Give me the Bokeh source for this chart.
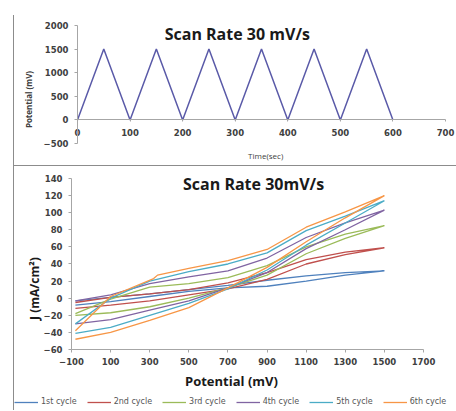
from bokeh.plotting import figure
from bokeh.models import Label, Legend, LegendItem, FixedTicker, Div
from bokeh.layouts import column, row
from bokeh.embed import file_html
from bokeh.resources import INLINE
import math

# ---------------- data ----------------
time_s = [0, 50, 100, 150, 200, 250, 300, 350, 400, 450, 500, 550, 600]
potential_mv = [0, 1500, 0, 1500, 0, 1500, 0, 1500, 0, 1500, 0, 1500, 0]

fwd_x = [-80, 100, 300, 500, 700, 900, 1100, 1300, 1500]
rev_x = [1500, 1300, 1100, 900, 700, 500, 300, 100, -80]
rev_x6 = [1500, 1300, 1100, 900, 700, 500, 340, 320, 100, -80]

c1_fwd = [-8, -4, 2, 8, 12, 14, 20, 27, 32]
c1_rev = [32, 30, 26, 21, 15, 10, 5, 1, -3]
c2_fwd = [-12, -8, -3, 4, 11, 22, 40, 51, 59]
c2_rev = [59, 54, 45, 30, 18, 10, 5, 1, -5]
c3_fwd = [-20, -17, -10, 0, 12, 27, 52, 70, 85]
c3_rev = [85, 75, 60, 38, 24, 17, 13, -1, -18]
c4_fwd = [-30, -25, -14, -3, 12, 30, 58, 80, 103]
c4_rev = [103, 88, 71, 47, 32, 25, 17, 4, -3]
c5_fwd = [-41, -34, -20, -6, 11, 33, 62, 88, 114]
c5_rev = [114, 96, 79, 53, 40, 31, 20, 0, -30]
c6_fwd = [-48, -40, -26, -11, 12, 36, 66, 94, 120]
c6_rev = [120, 101, 83, 57, 44, 35, 27, 23, 2, -38]

cycle_names = ["1st cycle", "2nd cycle", "3rd cycle", "4th cycle", "5th cycle", "6th cycle"]
cycle_colors = ["#4F81BD", "#C0504D", "#9BBB59", "#8064A2", "#4BACC6", "#F79646"]

top_xticks = [0, 100, 200, 300, 400, 500, 600, 700]
top_yticks = [-500, 0, 500, 1000, 1500, 2000]
bot_xticks = [-100, 100, 300, 500, 700, 900, 1100, 1300, 1500, 1700]
bot_yticks = [-60, -40, -20, 0, 20, 40, 60, 80, 100, 120, 140]

AX = "#a6a6a6"
TXT = "#404040"
DARK = "#1a1a1a"
LINE = "#8c8c8c"
TICKFONT = "DejaVu Sans"
TITLEFONT = "Open Sans"

def style_axes(p):
    for ax in (p.xaxis[0], p.yaxis[0]):
        ax.axis_line_color = AX
        ax.major_tick_line_color = AX
        ax.minor_tick_line_color = None
        ax.major_tick_out = 3
        ax.major_tick_in = 0
        ax.major_label_text_font = TICKFONT
        ax.major_label_text_font_style = "bold"
        ax.major_label_text_font_size = "8.5px"
        ax.major_label_text_color = TXT
    p.grid.visible = False
    p.outline_line_color = None

def text_label(p, x, y, txt, size, bold=True, color=DARK, angle=0.0):
    p.add_layout(Label(x=x, y=y, text=txt, text_align="center", text_baseline="middle",
                       angle=angle, text_font=TITLEFONT,
                       text_font_style="bold" if bold else "normal",
                       text_font_size=size, text_color=color))

# ---------------- top chart (frame fills the canvas) ----------------
p1 = figure(width=442, height=165, x_range=(-119.8, 720.9), y_range=(-966, 2530),
            output_backend="svg", toolbar_location=None,
            min_border_left=0, min_border_right=0, min_border_top=0, min_border_bottom=0)
p1.line(time_s, potential_mv, line_color="#5a5aa8", line_width=1.5)
style_axes(p1)
p1.xaxis.fixed_location = 0
p1.xaxis.bounds = (0, 700)
p1.yaxis.fixed_location = 0
p1.yaxis.bounds = (-500, 2000)
p1.xaxis.ticker = FixedTicker(ticks=top_xticks)
p1.yaxis.ticker = FixedTicker(ticks=top_yticks)
p1.xaxis.major_tick_out = 2
p1.xaxis.major_label_standoff = 7
p1.yaxis.major_label_standoff = 6

text_label(p1, 304, 1830, "Scan Rate 30 mV/s", "16px")
text_label(p1, 358, -754, "Time(sec)", "8px", bold=False, color=TXT)
text_label(p1, -94, 432, "Potential (mV)", "8px", color=TXT, angle=math.pi / 2)

# ---------------- bottom chart (frame fills the canvas) ----------------
p2 = figure(width=442, height=244, x_range=(-391.5, 1868.7), y_range=(-131.3, 154.0),
            output_backend="svg", toolbar_location=None,
            min_border_left=0, min_border_right=0, min_border_top=0, min_border_bottom=0)
style_axes(p2)
p2.xaxis.fixed_location = -60
p2.xaxis.bounds = (-100, 1700)
p2.yaxis.fixed_location = -100
p2.yaxis.bounds = (-60, 140)
p2.xaxis.ticker = FixedTicker(ticks=bot_xticks)
p2.yaxis.ticker = FixedTicker(ticks=bot_yticks)
p2.xaxis.major_label_standoff = 5
p2.yaxis.major_label_standoff = 6

cycles = [
    (c1_fwd, c1_rev, rev_x),
    (c2_fwd, c2_rev, rev_x),
    (c3_fwd, c3_rev, rev_x),
    (c4_fwd, c4_rev, rev_x),
    (c5_fwd, c5_rev, rev_x),
    (c6_fwd, c6_rev, rev_x6),
]
items = []
for (fy, ry, rx), name, col in zip(cycles, cycle_names, cycle_colors):
    xs = fwd_x + rx[1:]
    ys = fy + ry[1:]
    r = p2.line(xs, ys, line_color=col, line_width=1.3)
    items.append(LegendItem(label=name, renderers=[r]))

text_label(p2, 831, 134, "Scan Rate 30mV/s", "16px")
text_label(p2, 718, -96.3, "Potential (mV)", "13px")
text_label(p2, -289, 11.3, "J (mA/cm²)", "12px", angle=math.pi / 2)

legend = Legend(items=items, orientation="horizontal", location=(0, 4),
                padding=0, margin=0, spacing=10, glyph_width=24, glyph_height=8,
                label_standoff=3, label_height=8, label_text_font=TICKFONT,
                label_text_font_size="8px", label_text_color="#555555",
                border_line_color=None, background_fill_alpha=0)
p2.add_layout(legend)

# ---------------- frame lines ----------------
vline = Div(width=1, height=395, margin=(15, 0, 0, 13), styles={"background-color": LINE})
hline = Div(width=442, height=1, margin=(0, 0, 0, 0), styles={"background-color": LINE})

layout = row(vline, column(p1, hline, p2, spacing=0), spacing=0)
open("out.html", "w").write(file_html(layout, INLINE))
